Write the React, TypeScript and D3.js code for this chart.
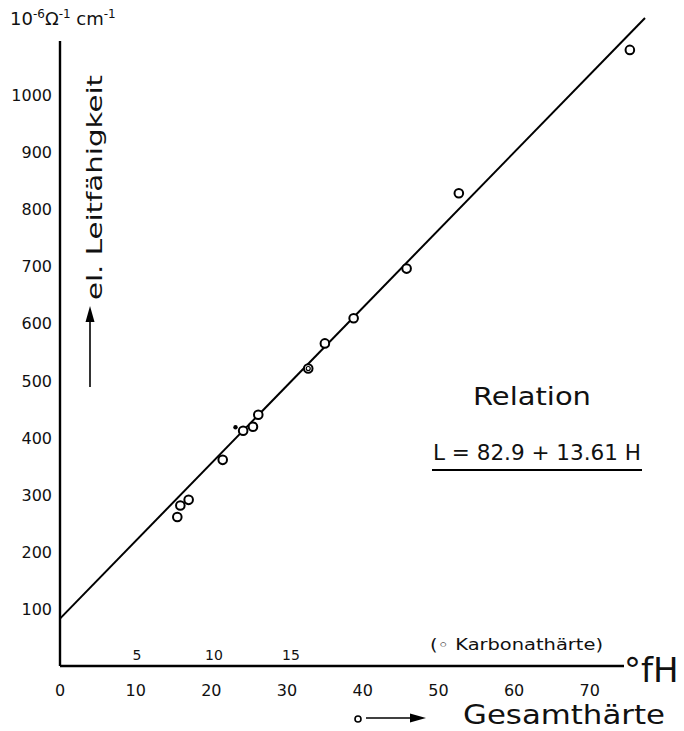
import React from "react";
import * as d3 from "d3";

// Gesamthärte (°fH) vs el. Leitfähigkeit (10^-6 Ω^-1 cm^-1)
const totalHardness = [15.5, 15.9, 17.0, 21.5, 24.2, 25.5, 26.2, 32.8, 35.0, 38.8, 45.8, 52.7, 75.3];
const conductivity = [261, 281, 291, 361, 412, 419, 440, 521, 565, 609, 696, 828, 1079];
// Karbonathärte point (filled dot)
const carbHardness = [11.4];
const carbConductivity = [418];
// doubled marker index
const doubleIdx = [7];

const yTicks = [100, 200, 300, 400, 500, 600, 700, 800, 900, 1000];
const xTicks = [0, 10, 20, 30, 40, 50, 60, 70];
const carbTicks = [5, 10, 15];
const intercept = 82.9;
const slope = 13.61;

const FONT = "'DejaVu Sans', 'Liberation Sans', sans-serif";

export default function App() {
  const W = 684, H = 731;
  const x = d3.scaleLinear().domain([0, 77.3]).range([60, 645]);
  const xK = d3.scaleLinear().domain([0, 38]).range([60, 645]);
  const y = d3.scaleLinear().domain([0, 1000]).range([666, 95]);
  const line = d3.line<number>().x((h) => x(h)).y((h) => y(intercept + slope * h));
  const lineH = [0, 77.3];

  return (
    <svg width={W} height={H} style={{ position: "absolute", left: 0, top: 0, background: "#fff" }} fontFamily={FONT}>
      {/* axes */}
      <line x1={x(0)} y1={41} x2={x(0)} y2={y(0)} stroke="#000" strokeWidth={2.4} />
      <line x1={x(0)} y1={y(0)} x2={624} y2={y(0)} stroke="#000" strokeWidth={2.4} />

      {/* y unit label */}
      <text x={10} y={25} fontSize={18} fill="#111">
        10<tspan dy={-7} fontSize={12}>-6</tspan>
        <tspan dy={7}>Ω</tspan>
        <tspan dy={-7} fontSize={12}>-1</tspan>
        <tspan dy={7}> cm</tspan>
        <tspan dy={-7} fontSize={12}>-1</tspan>
      </text>

      {/* y tick labels */}
      {yTicks.map((t) => (
        <text key={t} x={52} y={y(t) + 6} fontSize={16} textAnchor="end" fill="#111">
          {t}
        </text>
      ))}

      {/* y axis title with arrow */}
      <text
        transform={`translate(102,${300}) rotate(-90)`}
        fontSize={22}
        fill="#111"
        textLength={225}
        lengthAdjust="spacingAndGlyphs"
      >
        el. Leitfähigkeit
      </text>
      <line x1={90} y1={387} x2={90} y2={318} stroke="#000" strokeWidth={1.6} />
      <path d="M90,306 L85.5,322 L94.5,322 Z" fill="#000" />

      {/* x tick labels */}
      {xTicks.map((t) => (
        <text key={t} x={x(t)} y={696} fontSize={16} textAnchor="middle" fill="#111">
          {t}
        </text>
      ))}

      {/* carbonate hardness scale labels */}
      {carbTicks.map((t) => (
        <text key={t} x={xK(t)} y={660} fontSize={14} textAnchor="middle" fill="#111">
          {t}
        </text>
      ))}
      <text x={430} y={650} fontSize={15} fill="#111" textLength={173} lengthAdjust="spacingAndGlyphs">
        (◦ Karbonathärte)
      </text>

      {/* unit °fH (cut at the right edge as in the original) */}
      <text x={624} y={682} fontSize={34} fill="#111">°fH</text>

      {/* x axis title */}
      <circle cx={358} cy={719} r={3} fill="none" stroke="#000" strokeWidth={1.6} />
      <line x1={366} y1={718} x2={412} y2={718} stroke="#000" strokeWidth={1.6} />
      <path d="M426,718 L410,713.5 L410,722.5 Z" fill="#000" />
      <text x={463} y={724} fontSize={27} fill="#111" textLength={202} lengthAdjust="spacingAndGlyphs">
        Gesamthärte
      </text>

      {/* regression line */}
      <path d={line(lineH) || ""} fill="none" stroke="#000" strokeWidth={2} />

      {/* data points */}
      {totalHardness.map((h, i) => (
        <g key={i}>
          <circle cx={x(h)} cy={y(conductivity[i])} r={4.3} fill="#fff" stroke="#000" strokeWidth={2} />
          {doubleIdx.includes(i) && (
            <circle cx={x(h)} cy={y(conductivity[i])} r={2} fill="none" stroke="#000" strokeWidth={1.2} />
          )}
        </g>
      ))}
      {carbHardness.map((k, i) => (
        <circle key={"k" + i} cx={xK(k)} cy={y(carbConductivity[i])} r={2.2} fill="#000" />
      ))}

      {/* relation annotation */}
      <text x={473} y={405} fontSize={25} fill="#111" textLength={118} lengthAdjust="spacingAndGlyphs">
        Relation
      </text>
      <text x={433} y={460} fontSize={22} fill="#111" textLength={208} lengthAdjust="spacingAndGlyphs">
        L = 82.9 + 13.61 H
      </text>
      <line x1={432} y1={470} x2={642} y2={470} stroke="#000" strokeWidth={1.8} />
    </svg>
  );
}
